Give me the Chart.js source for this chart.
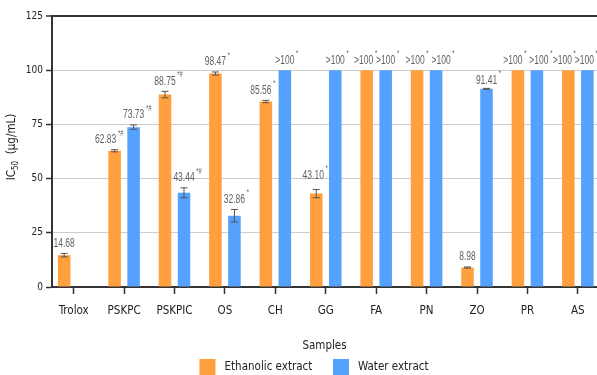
<!DOCTYPE html>
<html>
<head>
<meta charset="utf-8">
<script src="https://cdn.jsdelivr.net/npm/chart.js@4"></script>
<style>
  html, body { margin: 0; padding: 0; background: #fff; overflow: hidden; }
  canvas { display: block; }
</style>
</head>
<body>
<canvas id="chart" width="597" height="375"></canvas>
<script>
// IC50 values (µg/mL); '>100' means above the tested range, drawn at the 100 cap
const samples = ['Trolox', 'PSKPC', 'PSKPIC', 'OS', 'CH', 'GG', 'FA', 'PN', 'ZO', 'PR', 'AS'];
const ethanolIC50 = [14.68, 62.83, 88.75, 98.47, 85.56, 43.10, '>100', '>100', 8.98, '>100', '>100'];
const ethanolSD   = [0.8, 0.5, 1.5, 0.7, 0.55, 1.9, 0, 0, 0.25, 0, 0];
const ethanolSig  = ['', '*#', '*#', '*', '*', '*', '*', '*', '', '*', '*'];
const waterIC50   = [null, 73.73, 43.44, 32.86, '>100', '>100', '>100', '>100', 91.41, '>100', '>100'];
const waterSD     = [0, 1.0, 2.3, 2.9, 0, 0, 0, 0, 0.2, 0, 0];
const waterSig    = ['', '*#', '*#', '*', '*', '*', '*', '*', '*', '*', '*'];
const yTicks = [0, 25, 50, 75, 100, 125];
const CAP = 100;

const ORANGE = '#FF9F3D';
const BLUE = '#55A1FE';
const FONT = '"DejaVu Sans Condensed", "DejaVu Sans", sans-serif';
const LABEL_FONT = '"Liberation Sans", Arial, sans-serif';
const LABEL_SQUEEZE = 0.68;   // value labels are set in a narrow face

const barValue = v => (v === null ? null : (typeof v === 'string' ? CAP : v));
const labelText = v => (typeof v === 'string' ? v : v.toFixed(2));
const toPoints = arr => arr.map((v, i) => ({ x: i, y: barValue(v) }));

// small offsets for crowded value labels: "dataset-index": [dx, dy]
const labelNudge = {
  '0-1': [-9, 0], '0-4': [-5, 0], '0-5': [-3, -4], '0-6': [-3, 0], '0-7': [-2, 0],
  '1-7': [5, 0], '0-9': [-5, 0], '1-9': [2, 0], '0-10': [-6, 0], '1-10': [-3, 0],
  '1-8': [0, 2]
};

const errorBars = {
  id: 'errorBars',
  afterDatasetsDraw(chart) {
    const { ctx } = chart;
    const y = chart.scales.y;
    chart.data.datasets.forEach((ds, di) => {
      const meta = chart.getDatasetMeta(di);
      meta.data.forEach((bar, i) => {
        const sd = ds.sd[i];
        const v = ds.data[i].y;
        if (!sd || v == null) return;
        const top = y.getPixelForValue(v + sd);
        const bot = y.getPixelForValue(v - sd);
        ctx.save();
        ctx.strokeStyle = '#5b534c';
        ctx.lineWidth = 1;
        ctx.beginPath();
        ctx.moveTo(bar.x, top); ctx.lineTo(bar.x, bot);
        ctx.moveTo(bar.x - 3.5, top); ctx.lineTo(bar.x + 3.5, top);
        ctx.moveTo(bar.x - 3.5, bot); ctx.lineTo(bar.x + 3.5, bot);
        ctx.stroke();
        ctx.restore();
      });
    });
  }
};

const valueLabels = {
  id: 'valueLabels',
  afterDatasetsDraw(chart) {
    const { ctx } = chart;
    const y = chart.scales.y;
    chart.data.datasets.forEach((ds, di) => {
      const meta = chart.getDatasetMeta(di);
      meta.data.forEach((bar, i) => {
        const raw = ds.raw[i];
        if (raw === null) return;
        const v = ds.data[i].y;
        const top = ds.sd[i] ? y.getPixelForValue(v + ds.sd[i]) : bar.y;
        const [dx, dy] = labelNudge[di + '-' + i] || [0, 0];
        const cx = bar.x + dx;
        const cy = top - 10 + dy;
        const txt = labelText(raw);
        ctx.save();
        ctx.translate(cx, cy);
        ctx.scale(LABEL_SQUEEZE, 1);
        ctx.fillStyle = '#626262';
        ctx.font = '12.5px ' + LABEL_FONT;
        ctx.textAlign = 'center';
        ctx.textBaseline = 'middle';
        ctx.fillText(txt, 0, 0);
        const w = ctx.measureText(txt).width;
        if (ds.sig[i]) {
          ctx.font = '8.5px ' + LABEL_FONT;
          ctx.textAlign = 'left';
          ctx.fillText(ds.sig[i], w / 2 + 2.5, -6.5);
        }
        ctx.restore();
      });
    });
  }
};

const titlesAndLegend = {
  id: 'titlesAndLegend',
  afterDraw(chart) {
    const { ctx, chartArea } = chart;
    ctx.save();
    ctx.fillStyle = '#222';
    ctx.textBaseline = 'middle';

    // x-axis title
    ctx.font = '11.5px ' + FONT;
    ctx.textAlign = 'center';
    ctx.fillText('Samples', (chartArea.left + chartArea.right) / 2, 346);

    // y-axis title with subscript
    ctx.save();
    ctx.translate(12, 147);
    ctx.rotate(-Math.PI / 2);
    const big = '11.5px ' + FONT, small = '8px ' + FONT;
    ctx.font = big; const w1 = ctx.measureText('IC').width;
    ctx.font = small; const w2 = ctx.measureText('50').width;
    ctx.font = big; const w3 = ctx.measureText('  (\u03bcg/mL)').width;
    let x0 = -(w1 + w2 + w3) / 2;
    ctx.textAlign = 'left';
    ctx.font = big; ctx.fillText('IC', x0, 0);
    ctx.font = small; ctx.fillText('50', x0 + w1, 3.5);
    ctx.font = big; ctx.fillText('  (\u03bcg/mL)', x0 + w1 + w2, 0);
    ctx.restore();

    // legend
    const items = chart.data.datasets;
    const boxX = [199.5, 333];
    items.forEach((ds, k) => {
      ctx.fillStyle = ds.backgroundColor;
      ctx.fillRect(boxX[k], 359, 16, 16);
      ctx.fillStyle = '#222';
      ctx.font = '11.5px ' + FONT;
      ctx.textAlign = 'left';
      ctx.fillText(ds.label, boxX[k] + 25, 367);
    });
    ctx.restore();
  }
};

new Chart(document.getElementById('chart'), {
  type: 'bar',
  data: {
    datasets: [
      { label: 'Ethanolic extract', data: toPoints(ethanolIC50), backgroundColor: ORANGE,
        raw: ethanolIC50, sd: ethanolSD, sig: ethanolSig },
      { label: 'Water extract', data: toPoints(waterIC50), backgroundColor: BLUE,
        raw: waterIC50, sd: waterSD, sig: waterSig }
    ]
  },
  options: {
    responsive: false,
    animation: false,
    categoryPercentage: 0.754,
    barPercentage: 0.66,
    layout: { padding: { top: 16, left: 0, right: 0, bottom: 0 } },
    plugins: { legend: { display: false }, tooltip: { enabled: false } },
    scales: {
      x: {
        type: 'linear',
        offset: false,
        min: -0.43,
        max: 10.38,
        afterBuildTicks: s => { s.ticks = samples.map((_, i) => ({ value: i })); },
        afterFit: s => { s.height = 88; },
        grid: { display: true, offset: false, drawOnChartArea: false, drawTicks: true, tickLength: 7,
                tickColor: '#333', tickWidth: 1.5 },
        border: { display: true, color: '#333', width: 2 },
        ticks: {
          callback: v => samples[v] ?? '',
          font: { family: FONT, size: 11.5 }, color: '#222', padding: 10,
          maxRotation: 0, autoSkip: false
        }
      },
      y: {
        min: 0,
        max: 125,
        afterBuildTicks: s => { s.ticks = yTicks.map(v => ({ value: v })); },
        afterFit: s => { s.width = 52; },
        grid: {
          color: c => (c.tick && (c.tick.value === 125 || c.tick.value === 0)) ? '#333' : '#cdcdcd',
          lineWidth: c => (c.tick && c.tick.value === 125) ? 2 : 1,
          tickColor: '#333', tickLength: 6, tickWidth: 1.5
        },
        border: { color: '#333', width: 2 },
        ticks: { font: { family: FONT, size: 10 }, color: '#222', padding: 3 }
      }
    }
  },
  plugins: [errorBars, valueLabels, titlesAndLegend]
});
</script>
</body>
</html>
